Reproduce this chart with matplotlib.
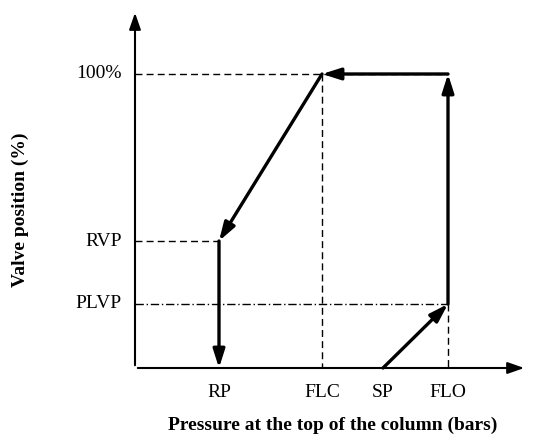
import matplotlib.pyplot as plt

# levels (in drawing units)
x_ticks = {"RP": 219, "FLC": 322, "SP": 383, "FLO": 448}
y_ticks = {"100%": 74, "RVP": 241, "PLVP": 304}
origin = (135, 368)

# operating cycle path
path_x = [383, 448, 448, 322, 219, 219]
path_y = [368, 304, 74, 74, 241, 368]

fig = plt.figure(figsize=(5.33, 4.41), dpi=100)
ax = fig.add_axes([0, 0, 1, 1])
ax.set_xlim(0, 533)
ax.set_ylim(441, 0)
ax.axis("off")
plt.rcParams["font.family"] = "Liberation Serif"

ox, oy = origin
ax.annotate("", xy=(527, oy), xytext=(ox, oy),
            arrowprops=dict(arrowstyle="-|>,head_length=1.0,head_width=0.35", lw=1.5, color="black"))
ax.annotate("", xy=(ox, 10), xytext=(ox, oy),
            arrowprops=dict(arrowstyle="-|>,head_length=1.0,head_width=0.35", lw=1.5, color="black"))

dash = dict(color="black", lw=1, dashes=(5, 3))
ax.plot([ox, x_ticks["FLO"]], [y_ticks["100%"]] * 2, **dash)
ax.plot([ox, x_ticks["RP"]], [y_ticks["RVP"]] * 2, **dash)
ax.plot([ox, x_ticks["FLO"]], [y_ticks["PLVP"]] * 2, color="black", lw=1, dashes=(6, 2, 1, 2))
ax.plot([x_ticks["FLC"]] * 2, [y_ticks["100%"], oy], **dash)
ax.plot([x_ticks["FLO"]] * 2, [y_ticks["PLVP"], oy], **dash)

for i in range(len(path_x) - 1):
    ax.annotate("", xy=(path_x[i + 1], path_y[i + 1]), xytext=(path_x[i], path_y[i]),
                arrowprops=dict(arrowstyle="-|>,head_length=1.1,head_width=0.35",
                                lw=2.4, color="black", shrinkA=0, shrinkB=0))

for name, x in x_ticks.items():
    ax.text(x, 384, name, ha="center", va="top", fontsize=14)
for name, y in y_ticks.items():
    ax.text(122, y, name, ha="right", va="center", fontsize=14)

ax.text(333, 425, "Pressure at the top of the column (bars)", ha="center", va="center",
        fontsize=14, fontweight="bold")
ax.text(20, 210, "Valve position (%)", ha="center", va="center", rotation=90,
        fontsize=14, fontweight="bold")

fig.savefig("out.png", dpi=100)
